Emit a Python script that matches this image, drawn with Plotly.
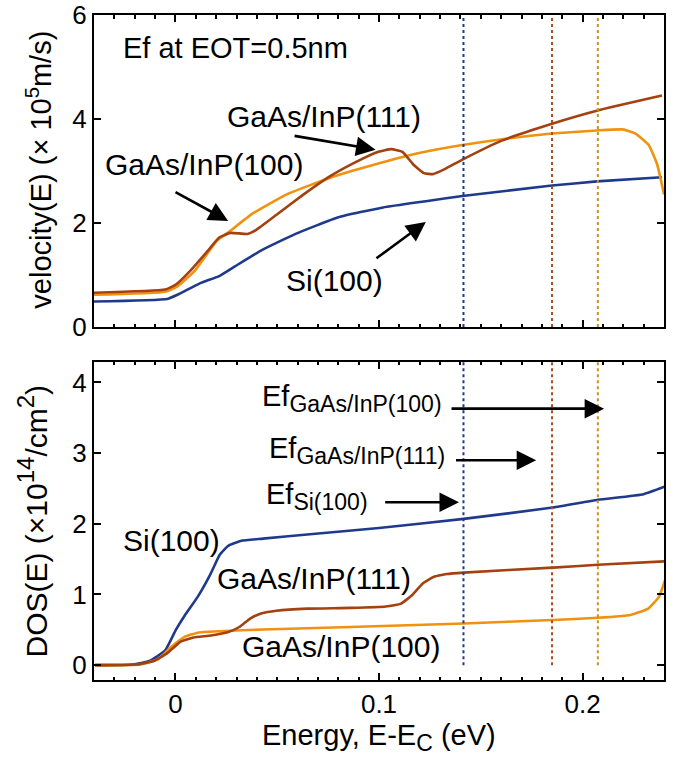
import plotly.graph_objects as go

# ---- energy grid points (eV) and curves ----
# velocity(E), units of 1e5 m/s
e_vel_si = [-0.04, -0.004, 0.001, 0.012, 0.0215, 0.029, 0.042, 0.059, 0.080, 0.102, 0.123, 0.141, 0.185, 0.207, 0.239]
vel_si = [0.49, 0.54, 0.62, 0.84, 0.98, 1.16, 1.47, 1.79, 2.11, 2.30, 2.42, 2.52, 2.72, 2.80, 2.88]

e_vel_111 = [-0.04, -0.005, 0.0, 0.0075, 0.016, 0.0215, 0.027, 0.0354, 0.0397, 0.050, 0.063, 0.076, 0.089,
             0.0997, 0.106, 0.1115, 0.117, 0.122, 0.1265, 0.132, 0.141, 0.160, 0.185, 0.207, 0.239]
vel_111 = [0.66, 0.72, 0.81, 1.09, 1.47, 1.72, 1.81, 1.79, 1.87, 2.17, 2.55, 2.90, 3.18,
           3.37, 3.42, 3.37, 3.12, 2.96, 2.94, 3.03, 3.22, 3.58, 3.91, 4.16, 4.45]

e_vel_100 = [-0.04, -0.005, 0.001, 0.0097, 0.0204, 0.027, 0.0375, 0.0547, 0.076, 0.0975, 0.119, 0.141,
             0.164, 0.185, 0.207, 0.2196, 0.226, 0.2325, 0.2367, 0.240]
vel_100 = [0.62, 0.68, 0.78, 1.09, 1.66, 1.85, 2.17, 2.55, 2.87, 3.12, 3.34, 3.50,
           3.63, 3.72, 3.78, 3.80, 3.72, 3.50, 3.12, 2.55]

# DOS(E), units of 1e14 /cm^2
e_dos_si = [-0.0395, -0.021, -0.0127, -0.005, 0.0002, 0.0045, 0.011, 0.0174, 0.0217, 0.026, 0.0324, 0.043,
            0.0647, 0.100, 0.1416, 0.1854, 0.2075, 0.230, 0.2408]
dos_si = [0.0, 0.01, 0.06, 0.21, 0.50, 0.70, 0.97, 1.30, 1.56, 1.69, 1.76, 1.79,
          1.85, 1.94, 2.07, 2.23, 2.34, 2.42, 2.53]

e_dos_111 = [-0.0395, -0.019, -0.0105, -0.004, 0.0024, 0.0088, 0.0174, 0.026, 0.0314, 0.0367, 0.0421, 0.0496,
             0.0647, 0.0861, 0.1033, 0.1108, 0.1162, 0.1216, 0.127, 0.1334, 0.1416, 0.1854, 0.2075, 0.2408]
dos_111 = [0.0, 0.01, 0.06, 0.17, 0.33, 0.39, 0.42, 0.47, 0.54, 0.66, 0.73, 0.77,
           0.80, 0.81, 0.83, 0.87, 0.99, 1.16, 1.25, 1.29, 1.31, 1.38, 1.42, 1.47]

e_dos_100 = [-0.0395, -0.017, -0.0084, -0.002, 0.0045, 0.011, 0.0217, 0.043, 0.0861, 0.1416, 0.1854, 0.2075,
             0.2236, 0.2322, 0.2376, 0.2408]
dos_100 = [0.0, 0.01, 0.085, 0.26, 0.40, 0.46, 0.48, 0.505, 0.54, 0.59, 0.64, 0.67,
           0.71, 0.80, 0.97, 1.23]

# Fermi levels at EOT = 0.5 nm (eV)
ef_names = ["Si(100)", "GaAs/InP(111)", "GaAs/InP(100)"]
ef_values = [0.1415, 0.185, 0.2075]

x_ticks = [0, 0.1, 0.2]
vel_ticks = [0, 2, 4, 6]
dos_ticks = [0, 1, 2, 3, 4]

BLUE = "#1f3a8c"
BROWN = "#a5400f"
ORANGE = "#f0920e"
EF_COLORS = ["#1f3a8c", "#a84a22", "#c8921a"]
FONT = "Arial, Liberation Sans, Helvetica, sans-serif"

fig = go.Figure()

def curve(x, y, color, xa, ya):
    fig.add_trace(go.Scatter(x=x, y=y, mode="lines", xaxis=xa, yaxis=ya,
                             line=dict(color=color, width=2.6, shape="spline", smoothing=0.4),
                             showlegend=False, hoverinfo="skip"))

# top panel: velocity
curve(e_vel_si, vel_si, BLUE, "x2", "y2")
curve(e_vel_100, vel_100, ORANGE, "x2", "y2")
curve(e_vel_111, vel_111, BROWN, "x2", "y2")
# bottom panel: DOS
curve(e_dos_si, dos_si, BLUE, "x", "y")
curve(e_dos_100, dos_100, ORANGE, "x", "y")
curve(e_dos_111, dos_111, BROWN, "x", "y")

# Fermi level markers in both panels
for ef, col in zip(ef_values, EF_COLORS):
    fig.add_trace(go.Scatter(x=[ef, ef], y=[0, 6], mode="lines", xaxis="x2", yaxis="y2",
                             line=dict(color=col, width=2, dash="dot"), showlegend=False, hoverinfo="skip"))
    fig.add_trace(go.Scatter(x=[ef, ef], y=[0, 4.3], mode="lines", xaxis="x", yaxis="y",
                             line=dict(color=col, width=2, dash="dot"), showlegend=False, hoverinfo="skip"))

axis_common = dict(showline=True, linecolor="black", linewidth=2, mirror="ticks",
                   ticks="inside", ticklen=7, tickwidth=2, tickcolor="black",
                   showgrid=False, zeroline=False, automargin=False,
                   ticklabeloverflow="allow",
                   tickfont=dict(family=FONT, size=26, color="black"))

fig.update_layout(
    width=684, height=768,
    margin=dict(l=94, r=20, t=15, b=88),
    paper_bgcolor="white", plot_bgcolor="white",
    font=dict(family=FONT, color="black"),
    xaxis=dict(axis_common, domain=[0, 1], anchor="y", range=[-0.04, 0.24],
               tickvals=x_ticks, ticktext=["0", "0.1", "0.2"],
               minor=dict(dtick=0.01, ticks="inside", ticklen=3.5, tickwidth=2, tickcolor="black")),
    yaxis=dict(axis_common, domain=[0, 0.4782], anchor="x", range=[-0.21, 4.29],
               tickvals=dos_ticks),
    xaxis2=dict(axis_common, domain=[0, 1], anchor="y2", range=[-0.04, 0.24], matches="x",
                tickvals=x_ticks, showticklabels=False,
                minor=dict(dtick=0.01, ticks="inside", ticklen=3.5, tickwidth=2, tickcolor="black")),
    yaxis2=dict(axis_common, domain=[0.5308, 1], anchor="x2", range=[0, 6],
                tickvals=vel_ticks),
)

LBL = 30
anns = []

def label(text, x, y, xr, yr, size=LBL, xanchor="center"):
    anns.append(dict(text=text, x=x, y=y, xref=xr, yref=yr, showarrow=False,
                     xanchor=xanchor, yanchor="middle",
                     font=dict(family=FONT, size=size, color="black")))

def arrow(x0, y0, x1, y1, xr, yr):
    anns.append(dict(text="", x=x1, y=y1, ax=x0, ay=y0, xref=xr, yref=yr, axref=xr, ayref=yr,
                     showarrow=True, arrowhead=2, arrowsize=1.5, arrowwidth=2.6, arrowcolor="black",
                     standoff=0, startstandoff=0))

# velocity panel labels
label("Ef at EOT=0.5nm", -0.0265, 5.36, "x2", "y2", size=29, xanchor="left")
label("GaAs/InP(111)", 0.0731, 4.04, "x2", "y2")
arrow(0.0578, 3.68, 0.0983, 3.41, "x2", "y2")
label("GaAs/InP(100)", 0.014, 3.12, "x2", "y2")
arrow(-0.0007, 2.61, 0.0259, 2.04, "x2", "y2")
label("Si(100)", 0.078, 0.895, "x2", "y2")
arrow(0.098, 1.30, 0.123, 2.02, "x2", "y2")

# DOS panel labels
label("Si(100)", -0.0017, 1.76, "x", "y")
label("GaAs/InP(111)", 0.0682, 1.23, "x", "y")
label("GaAs/InP(100)", 0.0815, 0.27, "x", "y")

SUB = '<sub><span style="font-size:23px">{}</span></sub>'
label("Ef" + SUB.format("GaAs/InP(100)"), 0.0416, 3.78, "x", "y", size=29, xanchor="left")
arrow(0.1349, 3.63, 0.2106, 3.63, "x", "y")
label("Ef" + SUB.format("GaAs/InP(111)"), 0.0448, 3.04, "x", "y", size=29, xanchor="left")
arrow(0.1371, 2.90, 0.1772, 2.90, "x", "y")
label("Ef" + SUB.format("Si(100)"), 0.0437, 2.38, "x", "y", size=29, xanchor="left")
arrow(0.1023, 2.305, 0.1393, 2.305, "x", "y")

# axis titles
anns.append(dict(text="velocity(E) (\u00d7 10<sup>5</sup>m/s)", x=-0.097, y=0.767,
                 xref="paper", yref="paper", showarrow=False, textangle=-90,
                 xanchor="center", yanchor="middle", font=dict(family=FONT, size=29, color="black")))
anns.append(dict(text='DOS(E) (\u00d710<sup><span style="font-size:24px">14</span></sup>/cm<sup><span style="font-size:24px">2</span></sup>)',
                 x=-0.108, y=0.239,
                 xref="paper", yref="paper", showarrow=False, textangle=-90,
                 xanchor="center", yanchor="middle", font=dict(family=FONT, size=30, color="black")))
anns.append(dict(text='Energy, E-E<sub><span style="font-size:23px">C</span></sub> (eV)', x=0.1, y=-0.0872,
                 xref="x", yref="paper", showarrow=False,
                 xanchor="center", yanchor="middle", font=dict(family=FONT, size=29, color="black")))

fig.update_layout(annotations=anns)
fig.write_html("out.html")
